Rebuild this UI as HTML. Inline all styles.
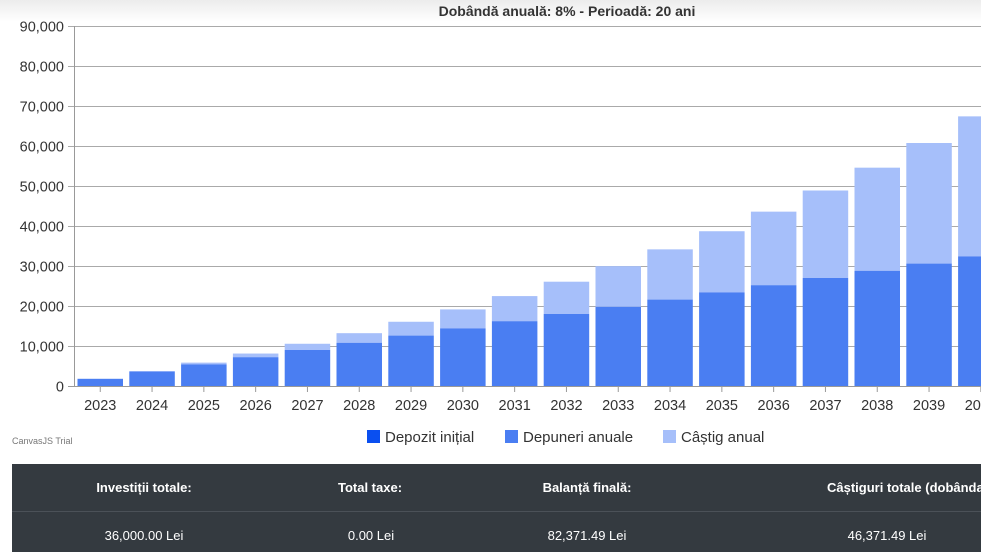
<!DOCTYPE html>
<html><head><meta charset="utf-8"><style>
body{margin:0;width:981px;height:552px;overflow:hidden;background:#fff;font-family:"Liberation Sans",sans-serif;position:relative}
#top{position:absolute;left:0;top:0;width:981px;height:22px;background:linear-gradient(#ececec,#fff)}
svg{position:absolute;left:0;top:0}
#tbl{position:absolute;left:12px;top:464px;width:969px;height:88px;background:#343a40;color:#fff;font-size:13px;overflow:hidden}
.r{position:absolute;left:0;width:100%;height:47px}
.c{position:absolute;top:0;height:47px;line-height:47px;text-align:center;width:240px;white-space:nowrap}
</style></head><body>
<div id="top"></div>
<svg id="s" width="981" height="460" xmlns="http://www.w3.org/2000/svg"></svg>
<div id="tbl">
<div class="r" style="top:0;font-weight:bold;border-bottom:1px solid #4b5158">
<div class="c" style="left:12px">Investiții totale:</div>
<div class="c" style="left:238px">Total taxe:</div>
<div class="c" style="left:455px">Balanță finală:</div>
<div class="c" style="left:815px;width:auto">Câștiguri totale (dobânda)</div>
</div>
<div class="r" style="top:48px">
<div class="c" style="left:12px">36,000.00 Lei</div>
<div class="c" style="left:239px">0.00 Lei</div>
<div class="c" style="left:455px">82,371.49 Lei</div>
<div class="c" style="left:755px">46,371.49 Lei</div>
</div>
</div>
<script>
var s='';
s+='<text x="567" y="16" text-anchor="middle" font-size="14" font-weight="bold" fill="#333">Dobândă anuală: 8% - Perioadă: 20 ani</text>';
for(var i=0;i<=9;i++){var y=386.5-i*40;
s+='<line x1="68" x2="981" y1="'+y+'" y2="'+y+'" stroke="'+(i==0?'#999':'#aaa')+'" stroke-width="1"/>';
s+='<text x="64" y="'+(y+5)+'" text-anchor="end" font-size="14.5" fill="#333">'+(i==0?'0':(i*10)+',000')+'</text>';}
s+='<line x1="74.5" x2="74.5" y1="26" y2="387" stroke="#999"/>';
var fv=0;
for(var n=0;n<18;n++){fv=fv*1.08+1800;var dep=1800*(n+1);var x=77.5+n*51.8;var w=45.5;
var yt=386-fv*0.004, yd=386-dep*0.004;
s+='<rect x="'+x+'" y="'+yt+'" width="'+w+'" height="'+(yd-yt)+'" fill="#a6bffa"/>';
s+='<rect x="'+x+'" y="'+yd+'" width="'+w+'" height="'+(386-yd)+'" fill="#4a7ef2"/>';
s+='<line x1="'+(x+w/2)+'" x2="'+(x+w/2)+'" y1="387" y2="392" stroke="#999"/>';
s+='<text x="'+(x+w/2)+'" y="410" text-anchor="middle" font-size="14.5" fill="#333">'+(2023+n)+'</text>';}
s+='<text x="12" y="444" font-size="9" fill="#777">CanvasJS Trial</text>';
var lg=[[367,'#0a4ff0','Depozit inițial'],[505,'#4a7ef2','Depuneri anuale'],[663,'#a6bffa','Câștig anual']];
lg.forEach(function(l){s+='<rect x="'+l[0]+'" y="430" width="13" height="13" fill="'+l[1]+'"/><text x="'+(l[0]+18)+'" y="442" font-size="15" fill="#333">'+l[2]+'</text>';});
document.getElementById('s').innerHTML=s;
</script>
</body></html>
